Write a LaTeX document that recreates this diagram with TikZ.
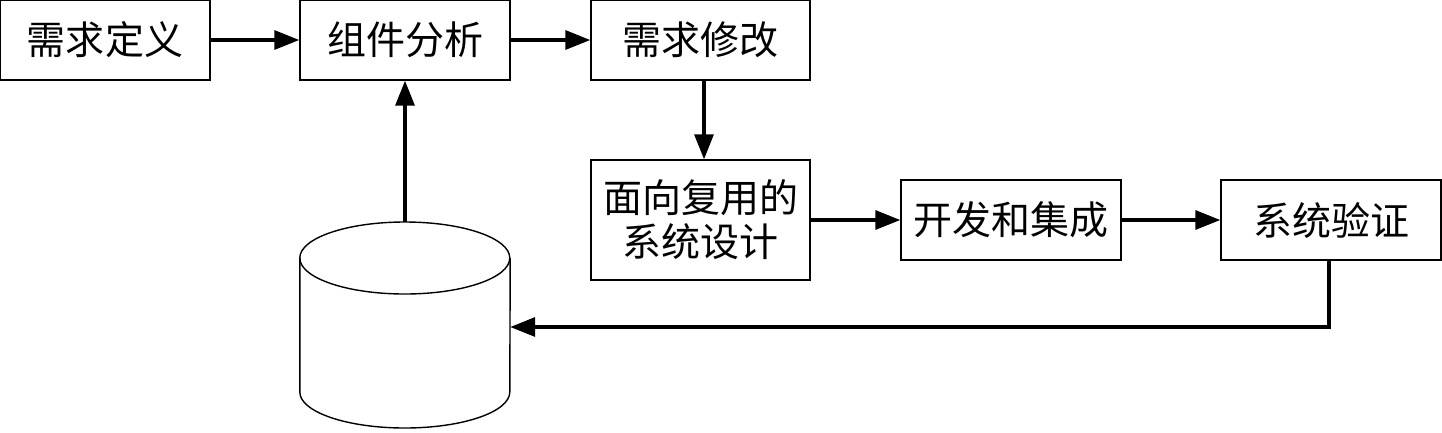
\documentclass[tikz,border=0pt]{standalone}
\usepackage{fontspec}
\newfontfamily\cjk{Noto Sans CJK SC}
\usetikzlibrary{arrows.meta}
\begin{document}
\begin{tikzpicture}[x=1pt,y=-1pt,
  box/.style={draw,line width=1.4pt,inner sep=0pt,minimum height=80pt,font=\cjk\fontsize{39}{44}\selectfont,align=center},
  conn/.style={line width=3.2pt,-{Triangle[length=25pt,width=19pt]}}]
\useasboundingbox (0,0) rectangle (1442,432);
\node[box,minimum width=210pt] (a) at (105,40) {需求定义};
\node[box,minimum width=210pt] (b) at (405,40) {组件分析};
\node[box,minimum width=219pt] (c) at (700.5,40) {需求修改};
\node[box,minimum width=219pt,minimum height=120pt] (d) at (700.5,220) {面向复用的\\系统设计};
\node[box,minimum width=220pt] (e) at (1011,220) {开发和集成};
\node[box,minimum width=220pt] (f) at (1331,220) {系统验证};
\node[minimum width=210pt,minimum height=206pt,inner sep=0pt] (db) at (405,325) {};
% cylinder
\draw[line width=1.4pt] (db.west |- 0,258) arc[start angle=180,end angle=540,x radius=105pt,y radius=36pt];
\draw[line width=1.4pt] (db.west |- 0,258) -- (db.west |- 0,392)
  arc[start angle=180,end angle=360,x radius=105pt,y radius=36pt] -- (db.east |- 0,258);
\draw[conn] (a) -- (b);
\draw[conn] (b) -- (c);
\draw[conn] (704,80) coordinate (c1) -- (c1 |- d.north);
\draw[conn] (db.north) -- (b.south);
\draw[conn] (d.east |- e.west) -- (e.west);
\draw[conn] (e) -- (f);
\coordinate (g) at (1329,327);
\draw[conn] (g |- f.south) -- (g) -- (db.east |- g);
\end{tikzpicture}
\end{document}
